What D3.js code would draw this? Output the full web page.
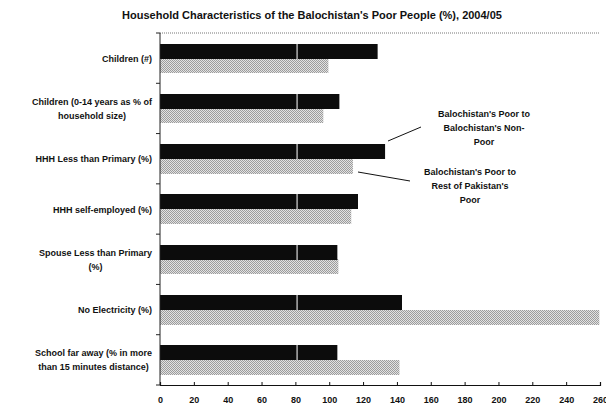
<!DOCTYPE html>
<html><head><meta charset="utf-8">
<script src="https://cdn.jsdelivr.net/npm/d3@7"></script>
<style>
body{margin:0;background:#fff;}
svg{display:block;font-family:"Liberation Sans",Arial,sans-serif;}
</style></head>
<body>
<svg id="chart" width="606" height="407"></svg>
<script>
const categories = [
  ["Children (#)"],
  ["Children (0-14 years as % of", "household size)"],
  ["HHH Less than Primary (%)"],
  ["HHH self-employed (%)"],
  ["Spouse Less than Primary", "(%)"],
  ["No Electricity (%)"],
  ["School far away (% in more", "than 15 minutes distance)"]
];
const poorToNonPoor = [128.6, 106, 133, 117, 104.8, 143, 104.8];
const poorToRestPoor = [99.5, 96.5, 114, 113, 105.4, 259.6, 141.5];
const xTicks = [0,20,40,60,80,100,120,140,160,180,200,220,240,260];
const title = "Household Characteristics of the Balochistan's Poor People (%), 2004/05";
const annotation1 = ["Balochistan's Poor to", "Balochistan's Non-", "Poor"];
const annotation2 = ["Balochistan's Poor to", "Rest of Pakistan's", "Poor"];

(function () {
const svg = d3.select("#chart");
const pLeft = 160, pRight = 600, pTop = 33, pBottom = 385;
const x = d3.scaleLinear().domain([0, 260]).range([pLeft, pRight]);
const idx = categories.map((d, i) => i);
const y = d3.scaleBand().domain(idx).range([pTop, pBottom]).paddingInner(0.42).paddingOuter(0.21);

// dither pattern for grey bars
const defs = svg.append("defs");
const pat = defs.append("pattern").attr("id", "dither").attr("width", 2).attr("height", 2)
  .attr("patternUnits", "userSpaceOnUse");
pat.append("rect").attr("width", 2).attr("height", 2).attr("fill", "#e2e2e2");
pat.append("rect").attr("width", 1).attr("height", 1).attr("fill", "#9c9c9c");
pat.append("rect").attr("x", 1).attr("y", 1).attr("width", 1).attr("height", 1).attr("fill", "#9c9c9c");

// title
svg.append("text").attr("x", 312).attr("y", 19).attr("text-anchor", "middle")
  .attr("font-size", 11).attr("font-weight", "bold").attr("fill", "#111").text(title);

// top border
svg.append("line").attr("x1", pLeft).attr("x2", pRight).attr("y1", pTop).attr("y2", pTop)
  .attr("stroke", "#777").attr("stroke-width", 1).attr("stroke-dasharray", "1,1");

const bh = y.bandwidth() / 2;
// grey bars
svg.append("g").selectAll("rect").data(poorToRestPoor).join("rect")
  .attr("x", x(0)).attr("y", (d, i) => Math.round(y(i) + bh))
  .attr("width", d => x(d) - x(0)).attr("height", Math.round(bh))
  .attr("fill", "url(#dither)");
// dark bars
svg.append("g").selectAll("rect").data(poorToNonPoor).join("rect")
  .attr("x", x(0)).attr("y", (d, i) => Math.round(y(i)))
  .attr("width", d => x(d) - x(0)).attr("height", Math.round(bh))
  .attr("fill", "#0c0c0c");
// white break line on dark bars
svg.append("g").selectAll("line").data(idx).join("line")
  .attr("x1", x(81)).attr("x2", x(81))
  .attr("y1", i => Math.round(y(i))).attr("y2", i => Math.round(y(i)) + Math.round(bh))
  .attr("stroke", "#fff").attr("stroke-width", 1.2).attr("opacity", 0.85);

// x axis
const xAxis = d3.axisBottom(x).tickValues(xTicks).tickSize(-3).tickPadding(12).tickFormat(d3.format("d"));
const gx = svg.append("g").attr("transform", `translate(0,${pBottom})`).call(xAxis);
gx.select(".domain").attr("stroke", "#111").attr("stroke-width", 1.2);
gx.selectAll(".tick line").attr("stroke", "#111");
gx.selectAll(".tick text").attr("font-size", 9).attr("font-weight", "bold").attr("fill", "#111")
  .attr("font-family", "Liberation Sans, Arial, sans-serif");

// y axis line & ticks at band boundaries
const step = y.step();
const bounds = d3.range(categories.length + 1).map(i => pTop + i * step);
svg.append("line").attr("x1", pLeft).attr("x2", pLeft).attr("y1", pTop).attr("y2", pBottom)
  .attr("stroke", "#222").attr("stroke-width", 1);
svg.append("g").selectAll("line").data(bounds).join("line")
  .attr("x1", pLeft - 4).attr("x2", pLeft).attr("y1", d => d).attr("y2", d => d)
  .attr("stroke", "#222");

// category labels
const lab = svg.append("g").attr("font-size", 9).attr("font-weight", "bold").attr("fill", "#111");
categories.forEach((lines, i) => {
  const cy = y(i) + y.bandwidth() / 2;
  const lh = 14;
  const g = lab.append("g");
  const texts = lines.map((t, j) => g.append("text")
    .attr("y", cy + (j - (lines.length - 1) / 2) * lh + 3.5).text(t));
  const maxW = d3.max(texts, t => t.node().getComputedTextLength());
  const cx = 152 - maxW / 2;
  texts.forEach(t => t.attr("x", cx).attr("text-anchor", "middle"));
});

// annotations
function annotate(lines, cx, y0, lx1, ly1, lx2, ly2) {
  const g = svg.append("g").attr("font-size", 9).attr("font-weight", "bold").attr("fill", "#111");
  lines.forEach((t, j) => g.append("text").attr("x", cx).attr("y", y0 + j * 14)
    .attr("text-anchor", "middle").text(t));
  svg.append("line").attr("x1", lx1).attr("y1", ly1).attr("x2", lx2).attr("y2", ly2)
    .attr("stroke", "#111").attr("stroke-width", 1);
}
annotate(annotation1, 484, 117, 388, 141, 421, 127);
annotate(annotation2, 470, 175, 358, 172, 410, 181);
})();
</script>
</body></html>
